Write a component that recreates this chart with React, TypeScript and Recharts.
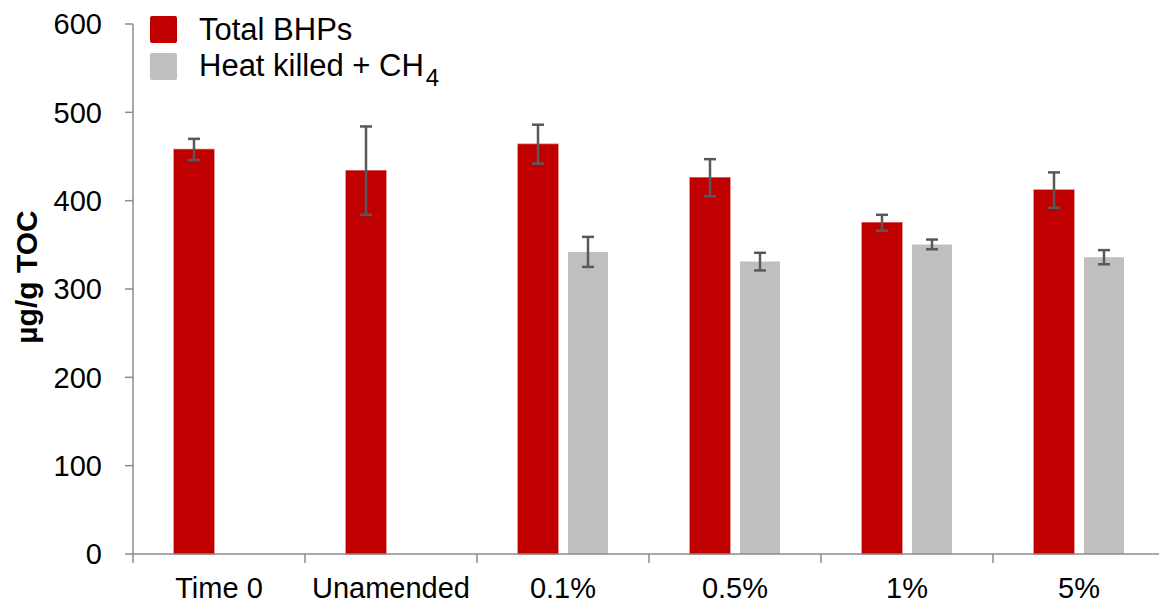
import React from 'react'
import {
  BarChart,
  Bar,
  XAxis,
  YAxis,
  ErrorBar,
  Legend,
} from 'recharts'

const categories = ['Time 0', 'Unamended', '0.1%', '0.5%', '1%', '5%']
const totalBHPs = [458, 434, 464, 426, 375, 412]
const totalBHPsErr = [12, 50, 22, 21, 9, 20]
const heatKilled = [null, null, 342, 331, 350.5, 336]
const heatKilledErr = [null, null, 17, 10, 5.5, 8]
const yTicks = [0, 100, 200, 300, 400, 500, 600]

const RED = '#C00000'
const GRAY = '#BFBFBF'
const AXIS = '#8C8C8C'
const FONT = '"Liberation Sans", Arial, sans-serif'

const data = categories.map((name, i) => ({
  name,
  total: totalBHPs[i],
  totalErr: totalBHPsErr[i],
  heat: heatKilled[i],
  heatErr: heatKilledErr[i],
}))

const CategoryTick = (props: any) => {
  const { x, y, payload } = props
  const half = payload?.offset ?? 86
  const axisY = y - 24
  return (
    <g>
      <line x1={x - half} x2={x - half} y1={axisY} y2={axisY + 9} stroke={AXIS} strokeWidth={1.5} />
      <text x={x} y={y} dy="0.7em" textAnchor="middle" fontSize={29} fill="#000" fontFamily={FONT}>
        {payload.value}
      </text>
    </g>
  )
}

const LegendContent = () => (
  <div style={{ fontFamily: FONT, fontSize: 31, color: '#000', lineHeight: '37px' }}>
    <div style={{ display: 'flex', alignItems: 'center', height: 37 }}>
      <span style={{ width: 27, height: 27, background: RED, borderRadius: 2, marginRight: 22 }} />
      Total BHPs
    </div>
    <div style={{ display: 'flex', alignItems: 'center', height: 37 }}>
      <span style={{ width: 27, height: 27, background: GRAY, borderRadius: 2, marginRight: 22 }} />
      <span>
        Heat killed + CH
        <span style={{ fontSize: 24, position: 'relative', top: 10, marginLeft: 2 }}>4</span>
      </span>
    </div>
  </div>
)

const YLabel = (props: any) => {
  const { viewBox } = props
  const cx = 37
  const cy = viewBox.y + viewBox.height / 2 - 12
  return (
    <text
      x={cx}
      y={cy}
      transform={`rotate(-90, ${cx}, ${cy})`}
      textAnchor="middle"
      fontSize={30}
      fontWeight="bold"
      fontFamily={FONT}
      fill="#000"
    >
      µg/g TOC
    </text>
  )
}

export default function App() {
  return (
    <div
      style={{
        position: 'absolute',
        left: 0,
        top: 0,
        width: 1159,
        height: 603,
        overflow: 'hidden',
        background: '#fff',
      }}
    >
      <BarChart
        width={1170}
        height={603}
        data={data}
        margin={{ top: 24, right: 5, bottom: 0, left: 0 }}
        barSize={40}
        barGap={10}
      >
        <XAxis
          dataKey="name"
          height={49}
          axisLine={{ stroke: AXIS, strokeWidth: 1.5 }}
          tickLine={false}
          tickSize={9}
          tickMargin={15}
          tick={<CategoryTick />}
          interval={0}
        />
        <YAxis
          width={133}
          domain={[0, 600]}
          ticks={yTicks}
          interval={0}
          axisLine={{ stroke: AXIS, strokeWidth: 1.5 }}
          tickLine={{ stroke: AXIS, strokeWidth: 1.5 }}
          tickSize={8}
          tickMargin={23}
          tick={{ fontSize: 29, fill: '#000', fontFamily: FONT }}
          label={<YLabel />}
        />
        <Legend
          layout="horizontal"
          verticalAlign="middle"
          align="center"
          wrapperStyle={{ left: 150, top: 11, width: 420 }}
          content={<LegendContent />}
        />
        <Bar dataKey="total" fill={RED} stroke="rgba(192,0,0,0.55)" strokeWidth={1.5} isAnimationActive={false}>
          <ErrorBar dataKey="totalErr" width={6} stroke="#595959" strokeWidth={2.5} />
        </Bar>
        <Bar dataKey="heat" fill={GRAY} isAnimationActive={false}>
          <ErrorBar dataKey="heatErr" width={6} stroke="#595959" strokeWidth={2.5} />
        </Bar>
      </BarChart>
    </div>
  )
}
